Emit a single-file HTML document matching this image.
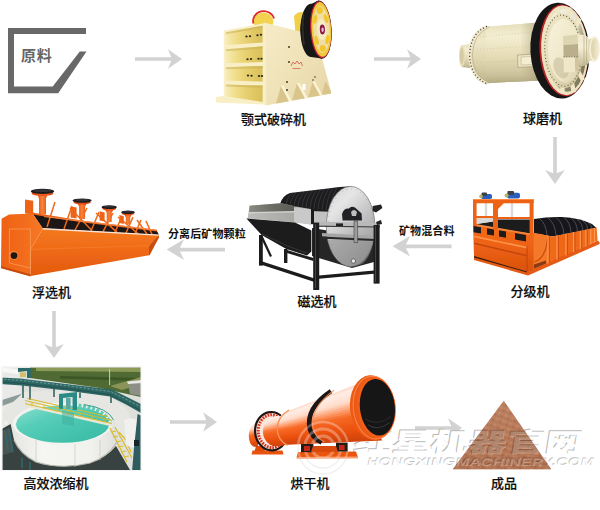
<!DOCTYPE html>
<html lang="zh-CN">
<head>
<meta charset="utf-8">
<title>选矿工艺流程</title>
<style>
html,body{margin:0;padding:0;background:#fff;}
body{width:600px;height:510px;overflow:hidden;position:relative;font-family:"Liberation Sans","Noto Sans CJK SC",sans-serif;}
#art{position:absolute;left:0;top:0;width:600px;height:510px;display:block;}
.lb{position:absolute;white-space:nowrap;color:#0c0c0c;font-size:13px;line-height:14px;font-weight:500;letter-spacing:0;-webkit-text-stroke:0.18px #0c0c0c;}
.sm{position:absolute;white-space:nowrap;color:#111;font-size:11px;line-height:12px;font-weight:700;letter-spacing:0.12px;}
.raw{position:absolute;left:21px;top:47px;letter-spacing:0.8px;color:#666;font-size:15px;line-height:17px;font-weight:700;white-space:nowrap;}
</style>
</head>
<body>
<svg id="art" width="600" height="510" viewBox="0 0 600 510">
<defs>
  <path id="arw" d="M0,-1.8 H36.3 L33,-9.8 L47,0 L33,9.8 L36.3,1.8 H0 Z"/>
  <filter id="soft" x="-5%" y="-5%" width="110%" height="110%"><feGaussianBlur stdDeviation="0.45"/></filter>
  <linearGradient id="jawSide" x1="0" y1="0" x2="1" y2="1">
    <stop offset="0" stop-color="#f6ecc8"/><stop offset=".5" stop-color="#efe2b8"/><stop offset="1" stop-color="#e6d6a6"/>
  </linearGradient>
  <linearGradient id="jawIn" x1="0" y1="0" x2="1" y2="0">
    <stop offset="0" stop-color="#f7ecb6"/><stop offset=".3" stop-color="#efdc86"/><stop offset=".6" stop-color="#e6ce6c"/><stop offset="1" stop-color="#d8bf5a"/>
  </linearGradient>
  <linearGradient id="bmBody" x1="0" y1="0" x2="0" y2="1">
    <stop offset="0" stop-color="#e6deba"/><stop offset=".22" stop-color="#f4eed2"/><stop offset=".55" stop-color="#e6dcb6"/><stop offset=".85" stop-color="#cdc39c"/><stop offset="1" stop-color="#b4aa82"/>
  </linearGradient>
  <linearGradient id="bmShade" x1="0" y1="0" x2="1" y2="0">
    <stop offset="0" stop-color="#b5ab84" stop-opacity="0"/><stop offset="1" stop-color="#a79d78" stop-opacity=".75"/>
  </linearGradient>
  <linearGradient id="bmCap" x1="0" y1="0" x2="1" y2="1">
    <stop offset="0" stop-color="#efe8ca"/><stop offset=".5" stop-color="#e3dab6"/><stop offset="1" stop-color="#c9bf98"/>
  </linearGradient>
  <linearGradient id="bmCap2" x1="0" y1="0" x2="1" y2="1">
    <stop offset="0" stop-color="#f8f3de"/><stop offset=".6" stop-color="#eee6c6"/><stop offset="1" stop-color="#d6cca6"/>
  </linearGradient>
  <linearGradient id="bmTr" x1="0" y1="0" x2="0" y2="1">
    <stop offset="0" stop-color="#efe8ca"/><stop offset=".4" stop-color="#f6f0d8"/><stop offset="1" stop-color="#c4ba92"/>
  </linearGradient>
  <linearGradient id="bmFun" x1="0" y1="0" x2="1" y2="0">
    <stop offset="0" stop-color="#d9d0aa"/><stop offset="1" stop-color="#f3ecd0"/>
  </linearGradient>
  <linearGradient id="clSide" x1="0" y1="0" x2="1" y2="0">
    <stop offset="0" stop-color="#f4731f"/><stop offset=".5" stop-color="#ee6516"/><stop offset="1" stop-color="#f07020"/>
  </linearGradient>
  <linearGradient id="clFront" x1="0" y1="0" x2="0" y2="1">
    <stop offset="0" stop-color="#f06a1c"/><stop offset=".45" stop-color="#ee6214"/><stop offset="1" stop-color="#d9520e"/>
  </linearGradient>
  <linearGradient id="msDisc" x1="0" y1="0" x2=".6" y2="1">
    <stop offset="0" stop-color="#d2d2d2"/><stop offset=".3" stop-color="#e6e6e6"/><stop offset=".6" stop-color="#c4c4c4"/><stop offset="1" stop-color="#9a9a9a"/>
  </linearGradient>
  <linearGradient id="flFront" x1="0" y1="0" x2="0" y2="1">
    <stop offset="0" stop-color="#f4791f"/><stop offset=".4" stop-color="#f06c18"/><stop offset="1" stop-color="#e2590d"/>
  </linearGradient>
  <linearGradient id="flEnd" x1="0" y1="0" x2="1" y2="0">
    <stop offset="0" stop-color="#ee6114"/><stop offset=".6" stop-color="#f36d1c"/><stop offset="1" stop-color="#f57a28"/>
  </linearGradient>
  <linearGradient id="flPed" x1="0" y1="0" x2="1" y2="0">
    <stop offset="0" stop-color="#e85510"/><stop offset=".5" stop-color="#f9823a"/><stop offset="1" stop-color="#e2500c"/>
  </linearGradient>
  <clipPath id="thClip"><rect x="2.2" y="367.2" width="138.8" height="103.2"/></clipPath>
  <filter id="soft2" x="-5%" y="-5%" width="110%" height="110%"><feGaussianBlur stdDeviation="0.55"/></filter>
  <linearGradient id="thWall" x1="0" y1="0" x2="1" y2="0">
    <stop offset="0" stop-color="#e3e3df"/><stop offset=".3" stop-color="#f6f6f2"/><stop offset=".75" stop-color="#f1f1ed"/><stop offset="1" stop-color="#dededa"/>
  </linearGradient>
  <linearGradient id="thWater" x1="0" y1="0" x2="1" y2="1">
    <stop offset="0" stop-color="#8fe0d0"/><stop offset=".35" stop-color="#55cdb8"/><stop offset="1" stop-color="#35b9a2"/>
  </linearGradient>
  <linearGradient id="dryBody" gradientUnits="userSpaceOnUse" x1="306" y1="398" x2="318" y2="446">
    <stop offset="0" stop-color="#f47a48"/><stop offset=".1" stop-color="#ffb08c"/><stop offset=".24" stop-color="#ffa278"/><stop offset=".42" stop-color="#f76a28"/><stop offset=".7" stop-color="#ef5612"/><stop offset="1" stop-color="#d8460a"/>
  </linearGradient>
  <linearGradient id="pile" x1="0" y1="0" x2="0" y2="1">
    <stop offset="0" stop-color="#c08666"/><stop offset=".5" stop-color="#b67859"/><stop offset="1" stop-color="#a86a4b"/>
  </linearGradient>
  <pattern id="pileTex" width="7" height="6" patternUnits="userSpaceOnUse" patternTransform="rotate(20)">
    <rect width="7" height="6" fill="#b97c5c"/>
    <circle cx="1.5" cy="1.5" r="1.2" fill="#d09a7a"/><circle cx="5" cy="4" r="1.3" fill="#9c6242"/><circle cx="4.6" cy="1" r=".8" fill="#c89070"/><circle cx="1.4" cy="4.6" r=".9" fill="#a86a4a"/>
  </pattern>
  <clipPath id="wmClip">
    <path d="M503.8,400.8 L551.2,469.2 L452.8,469.2 Z"/>
    <path d="M278,415 L356,384 L380,440.6 L281.6,445 Z"/>
    <ellipse cx="373" cy="407.6" rx="22.6" ry="32.6" transform="rotate(-6 374 407.5)"/>
    <path d="M298,452 L356,451.6 L358,457.4 L296.6,457.8 Z"/>
  </clipPath>
  <linearGradient id="bmEnd" x1="0" y1="0" x2="0" y2="1">
    <stop offset="0" stop-color="#e6deba"/><stop offset=".25" stop-color="#efe8ca"/><stop offset=".6" stop-color="#dfd5ae"/><stop offset="1" stop-color="#bdb38c"/>
  </linearGradient>
  <linearGradient id="msTank" x1="0" y1="0" x2="1" y2="0">
    <stop offset="0" stop-color="#bcbcb8"/><stop offset=".5" stop-color="#aeaeaa"/><stop offset="1" stop-color="#a2a29d"/>
  </linearGradient>
  <clipPath id="dryRearClip"><path d="M263,410 L284,410 L284,448 L266,448 Z"/></clipPath>
  <clipPath id="dryMainClip"><path d="M289,409 C272.6,418 272.6,438 287.6,446.4 L386,443 L362,380 Z"/></clipPath>
  <linearGradient id="bmGap" x1="0" y1="0" x2="1" y2="1">
    <stop offset="0" stop-color="#fbfaf4"/><stop offset=".45" stop-color="#e8e4d2"/><stop offset=".7" stop-color="#8f896c"/><stop offset="1" stop-color="#6e684e"/>
  </linearGradient>
  <clipPath id="wmClipP"><path d="M503.8,400.8 L551.2,469.2 L452.8,469.2 Z"/></clipPath>
  <clipPath id="dryCapClip"><path d="M258,422 L258,447.4 L254,447 Q248.6,444 248.8,435 Q249,426 255,423.4 Z"/></clipPath>
  <clipPath id="dryInClip"><ellipse cx="277.6" cy="431.4" rx="14.6" ry="15.4" transform="rotate(-4 277.6 431.4)"/></clipPath>
  <linearGradient id="msTop" x1="0" y1="0" x2="1" y2="0">
    <stop offset="0" stop-color="#8a8a84"/><stop offset=".5" stop-color="#6c6c64"/><stop offset="1" stop-color="#5c5c56"/>
  </linearGradient>
</defs>
<!-- raw material hopper -->
<g id="hopper" fill="#686868">
  <path d="M8,28 H86 V34 H14 V86.5 H52.7 L79.8,51.4 H86.5 L58.2,93.3 H8 Z"/>
</g>
<!-- arrows -->
<g id="arrows" fill="#d2d2d2">
  <use href="#arw" transform="translate(135,59)"/>
  <use href="#arw" transform="translate(374,59)"/>
  <use href="#arw" transform="translate(555,137) rotate(90)"/>
  <use href="#arw" transform="translate(451.5,246.3) scale(-1.255,1.04)"/>
  <use href="#arw" transform="translate(225,249.6) scale(-1.24,1.05)"/>
  <use href="#arw" transform="translate(54,311) rotate(90)"/>
  <use href="#arw" transform="translate(170,422)"/>
  <use href="#arw" transform="translate(415,428)"/>
</g>
<!-- jaw crusher -->
<g id="jaw" filter="url(#soft)">
  <!-- rear flywheel (red arc + yellow) -->
  <ellipse cx="263.5" cy="21.6" rx="10" ry="9" fill="#f3d34e"/>
  <path d="M253.4,23.4 A10.4,9.6 0 0 1 274,18.6" fill="none" stroke="#e02a2a" stroke-width="1.8"/>
  <!-- bearing housing yellow -->
  <path d="M294,16 Q299,10 304,13 L306,48 L297,52 Z" fill="#f0cf4a"/>
  <!-- side face -->
  <path d="M264,22.6 L302,32 L322.5,60 L331,91.6 L331,93.4 L266,105.6 L264,104 Z" fill="url(#jawSide)"/>
  <!-- ribs on side -->
  <g fill="#d9c48c">
    <path d="M276,103.6 L281,86 L289,101.2 Z"/>
    <path d="M292,100.6 L297,83.6 L305,98.2 Z"/>
    <path d="M308,97.6 L312.6,82 L320,95.4 Z"/>
    <path d="M321.6,95 L325.6,81 L331,91.6 L331,93.4 Z"/>
  </g>
  <g fill="#fbf4d6">
    <path d="M281,86 L289,101.2 L291.6,100.8 L283.2,85 Z"/>
    <path d="M297,83.6 L305,98.2 L307.6,97.8 L299.2,82.6 Z"/>
    <path d="M312.6,82 L320,95.4 L322.4,95 L314.6,81 Z"/>
  </g>
  <rect x="302.5" y="84" width="3" height="6" fill="#fff"/>
  <!-- bolts on side -->
  <g fill="#4a3a22">
    <circle cx="289" cy="47" r="1"/><circle cx="289" cy="62" r="1"/><circle cx="287" cy="82" r="1"/><circle cx="287" cy="90" r="1"/>
    <circle cx="313" cy="80" r="0.8"/><circle cx="315" cy="77" r="0.8"/>
  </g>
  <!-- logo red -->
  <path d="M291,66 l2,-4 l2,2 l2,-3 l2,3 l2,-2 l1.5,4" fill="none" stroke="#d4554a" stroke-width="0.8"/>
  <rect x="292.5" y="68" width="8" height="1" fill="#d4554a" opacity=".7"/>
  <!-- front frame -->
  <path d="M223.8,30.6 L264,23.2 L266,24 L266,105 L264,104.5 L227,103 L216,102.5 L216,97 L223.8,96 Z" fill="#f8efc6"/>
  <!-- recesses -->
  <g>
    <path d="M225.8,32.3 L262.6,25.7 L262.6,42.4 L225.8,45.3 Z" fill="url(#jawIn)"/>
    <path d="M225.8,49.2 L262.6,46.3 L262.6,62 L225.8,63.3 Z" fill="url(#jawIn)"/>
    <path d="M225.8,67.3 L262.6,65.9 L262.6,81.6 L225.8,80.6 Z" fill="url(#jawIn)"/>
    <path d="M225.8,84.5 L262.6,85.5 L262.6,102 L225.8,96.3 Z" fill="url(#jawIn)"/>
  </g>
  <!-- shelf shadows (top inside of each recess) -->
  <g fill="#c9b25a" opacity=".55">
    <path d="M225.8,32.3 L262.6,25.7 L262.6,28 L225.8,34.3 Z"/>
    <path d="M225.8,49.2 L262.6,46.3 L262.6,48.6 L225.8,51.2 Z"/>
    <path d="M225.8,67.3 L262.6,65.9 L262.6,68.2 L225.8,69.3 Z"/>
    <path d="M225.8,84.5 L262.6,85.5 L262.6,87.8 L225.8,86.5 Z"/>
  </g>
  <!-- bolts in recesses -->
  <g fill="#2e2a1c">
    <ellipse cx="246.5" cy="36.6" rx="1.2" ry="1"/><ellipse cx="250" cy="36.2" rx="1.2" ry="1"/><ellipse cx="257.5" cy="35.2" rx="1.2" ry="1"/><ellipse cx="261" cy="34.8" rx="1.2" ry="1"/>
    <ellipse cx="247.5" cy="59.2" rx="1.2" ry="1"/><ellipse cx="251" cy="59" rx="1.2" ry="1"/><ellipse cx="258.5" cy="58.8" rx="1.2" ry="1"/><ellipse cx="261.5" cy="58.7" rx="1.2" ry="1"/>
    <ellipse cx="248" cy="75.6" rx="1.2" ry="1"/><ellipse cx="251.5" cy="75.7" rx="1.2" ry="1"/><ellipse cx="259" cy="76" rx="1.2" ry="1"/><ellipse cx="262" cy="76" rx="1.2" ry="1"/>
  </g>
  <!-- flywheel -->
  <g>
    <path d="M311,4 L319,0.6 L331,28 L322,58.6 L311,57 Q300.4,45 300.4,29 Q300.6,12 311,4 Z" fill="#161616"/>
    <ellipse cx="311" cy="30.3" rx="10.6" ry="26.6" fill="#161616"/>
    <path d="M303.5,14 Q301.8,28 304,45" fill="none" stroke="#3a3a3a" stroke-width="1.6" opacity=".7"/>
    <g transform="rotate(-3.5 320.6 29.6)">
      <ellipse cx="320.4" cy="29.6" rx="11.2" ry="29.2" fill="#161616"/>
      <ellipse cx="320.8" cy="29.6" rx="10.6" ry="28.6" fill="#c21f3a"/>
      <ellipse cx="321.3" cy="29.5" rx="9.8" ry="27.4" fill="#f0c93c"/>
      <ellipse cx="321.5" cy="29.5" rx="8.2" ry="23.4" fill="#efdfa6"/>
      <g fill="#f2c62e">
        <ellipse cx="321" cy="10.5" rx="3" ry="3.4"/>
        <ellipse cx="326.6" cy="19" rx="1.8" ry="4.6" transform="rotate(-14 326.6 19)"/>
        <ellipse cx="326.8" cy="40" rx="1.8" ry="4.6" transform="rotate(14 326.8 40)"/>
        <ellipse cx="321.6" cy="48.5" rx="3" ry="3.4"/>
        <ellipse cx="316" cy="40" rx="1.7" ry="4.6" transform="rotate(-14 316 40)"/>
        <ellipse cx="316" cy="19" rx="1.7" ry="4.6" transform="rotate(14 316 19)"/>
      </g>
      <ellipse cx="321.8" cy="29.6" rx="4.6" ry="10.5" fill="#f6ecc4"/>
      <ellipse cx="322.4" cy="29.6" rx="2.6" ry="5" fill="#8a1c44"/>
      <ellipse cx="322.6" cy="29.8" rx="1.2" ry="2.3" fill="#f0c0d0"/>
    </g>
  </g>
</g>
<!-- ball mill -->
<g id="ballmill" filter="url(#soft)">
  <!-- left trunnion -->
  <path d="M462,45.2 L474,43.6 L474,68.4 L462,67 Z" fill="url(#bmBody)"/>
  <ellipse cx="462" cy="56.1" rx="3" ry="10.9" fill="#e6ddb8"/>
  <ellipse cx="461.8" cy="56.1" rx="1.8" ry="8" fill="#d3c9a2"/>
  <!-- dished end cap -->
  <ellipse cx="486" cy="55" rx="17" ry="28.2" fill="url(#bmEnd)"/>
  
  <!-- body -->
  <path d="M486,26.8 L536,22.8 L540,80.4 L486,83.2 Q500,55 486,26.8 Z" fill="url(#bmBody)"/>
  <path d="M486,26.8 L540,22.6 L540,80.4 L486,83.2 Z" fill="url(#bmBody)"/>
  <ellipse cx="486" cy="55" rx="14.4" ry="26" fill="url(#bmBody)" opacity="0"/>
  <!-- seam where cap meets body -->
  <path d="M487,26.4 Q470.4,33 469.6,55 Q470.4,77 487,83.6" fill="none" stroke="#f1ead0" stroke-width="3"/>
  <path d="M487,26.4 Q470.4,33 469.6,55 Q470.4,77 487,83.6" fill="none" stroke="#3f3a28" stroke-width="1.3" stroke-dasharray="1 2.3"/>
  <path d="M489.4,27 Q473,34 472.4,55 Q473,76 489.4,83.2" fill="none" stroke="#bfb58e" stroke-width=".8"/>
  <!-- shadow near ring -->
  <path d="M520,24 L536,22.5 L540,80.5 L522,81.5 Z" fill="url(#bmShade)"/>
  <!-- bolt rows -->
  <g stroke="#bdb38c" stroke-width=".7" stroke-dasharray=".8 2.4" fill="none" opacity=".8">
    <path d="M480,37 L534,32"/><path d="M477,49.5 L534,46"/><path d="M477,62.5 L534,60.6"/><path d="M480,74 L534,72"/>
  </g>
  <!-- manhole box -->
  <path d="M517.5,55 L532.5,54.2 L532.8,66.6 L518,67.4 Z" fill="#ece3c2" stroke="#a89e7a" stroke-width=".7"/>
  <path d="M521,57 L532.5,56.4 L532.7,64.4 L521.3,65 Z" fill="#f4edd2" stroke="#b5ab86" stroke-width=".5"/>
  <!-- gear ring -->
  <g transform="rotate(-3.2 560 50.5)">
    <ellipse cx="560" cy="50.6" rx="29.6" ry="48" fill="#151515"/>
    <ellipse cx="563.8" cy="50.6" rx="24.4" ry="46" fill="#b52228"/>
    <ellipse cx="564.6" cy="50.6" rx="23.4" ry="45" fill="#ebe3c0"/>
    <ellipse cx="565.6" cy="50.6" rx="20.4" ry="41.4" fill="url(#bmGap)"/>
    <g stroke="#efe7c6" stroke-width="4.4" stroke-linecap="butt">
      <path d="M565.6,50.6 L571.4,8.1"/>
      <path d="M565.6,50.6 L581.5,19.5"/>
      <path d="M565.6,50.6 L587.3,39.2"/>
      <path d="M565.6,50.6 L587.3,62.0"/>
      <path d="M565.6,50.6 L581.5,81.7"/>
      <path d="M565.6,50.6 L571.4,93.1"/>
      <path d="M565.6,50.6 L559.8,93.1"/>
      <path d="M565.6,50.6 L549.7,81.7"/>
      <path d="M565.6,50.6 L543.9,62.0"/>
      <path d="M565.6,50.6 L543.9,39.2"/>
      <path d="M565.6,50.6 L549.7,19.5"/>
      <path d="M565.6,50.6 L559.8,8.1"/>
    </g>
    <!-- end cap flange -->
    <ellipse cx="563" cy="50.8" rx="19.6" ry="37.6" fill="url(#bmCap)"/>
    <ellipse cx="563" cy="50.8" rx="18.2" ry="35.6" fill="none" stroke="#4e472e" stroke-width="1" stroke-dasharray=".9 2.4"/>
    <ellipse cx="564.4" cy="51.2" rx="16.4" ry="32" fill="url(#bmCap2)"/>
    <!-- cast shadow under bearing box -->
    <ellipse cx="560" cy="68" rx="7" ry="11" fill="#b5ab86" opacity=".4" transform="rotate(-20 560 68)"/>
    
  </g>
  <!-- trunnion -->
  <path d="M570,34.5 Q585,33 589,38 L589,63 Q584,68 570,66 Z" fill="url(#bmTr)"/>
  <path d="M584,36 L584,66 M586.6,37 L586.6,65" stroke="#b3a986" stroke-width=".7" fill="none"/>
  <!-- bearing box -->
  <path d="M563,36 L577.5,34.5 L578,44 L563.4,45 Z" fill="#ddd4b0"/>
  <path d="M563.4,45 L578,44 L578.4,57 L563.6,57 Z" fill="#b9af8c"/>
  <path d="M563.6,57 L575,56.6 L575.4,72 L563.8,72.4 Z" fill="#efe7c8"/>
  <path d="M575,56.6 L578.4,56.8 L578.4,70.5 L575.4,72 Z" fill="#cfc5a0"/>
  <path d="M563.6,57 L578.4,56.8" stroke="#3d3a2c" stroke-width=".8" stroke-dasharray="1 1.6"/>
  <!-- funnel -->
  <path d="M588,40 L594.5,36.5 L594.5,61.5 L588,60 Z" fill="#e2d9b6"/>
  <ellipse cx="594.6" cy="49" rx="5.3" ry="12.8" fill="#f6efd6"/>
  <ellipse cx="594.9" cy="49" rx="3.9" ry="10.8" fill="url(#bmFun)"/>
</g>
<!-- spiral classifier -->
<g id="classifier" filter="url(#soft)">
  <!-- motors -->
  <g>
    <rect x="481" y="194" width="11" height="5" rx="1.8" fill="#2b5fc2"/>
    <rect x="481.6" y="192.6" width="5.4" height="3.4" rx="1" fill="#3a4048"/>
    <circle cx="481" cy="196.4" r="1.8" fill="#b9b070"/>
    <rect x="507" y="192.8" width="13" height="5.6" rx="2" fill="#2b5fc2"/>
    <rect x="507.4" y="191" width="6.6" height="4" rx="1" fill="#3a4048"/>
    <circle cx="506.6" cy="195.6" r="2" fill="#b9b070"/>
    <path d="M486,203 V224 M512,203 V226" stroke="#d9d9d9" stroke-width="2.4"/>
  </g>
  <!-- black spirals behind gantry -->
  <path d="M476,224 L493,221.4 L498,219.4 L531,219.6 L533,234 L476,228 Z" fill="#1d1d1f"/>
  <path d="M476.6,218 L493,218 L493,221.6 L476.6,224 Z" fill="#d8d8d6"/>
  <!-- spirals -->
  <path d="M534,219 Q548,216.5 562,217 Q580,218 592,224 L596.5,228 L553,236.4 L534,233.4 Z" fill="#18181a"/>
  <g fill="none" stroke="#55585e" stroke-width=".9" opacity=".9">
    <path d="M540,219 Q546,224 547,235"/><path d="M548,218 Q555,223 556,235.6"/><path d="M556,217.6 Q563,222 564,234.6"/>
    <path d="M564,217.6 Q570.5,222 571,233"/><path d="M571,218.2 Q577,222 577.5,232"/><path d="M577,219.4 Q582.5,223 583,231"/>
    <path d="M583,221 Q587.5,224 588,230"/><path d="M588,222.6 Q592,225 592.4,229.2"/>
  </g>
  <!-- base beam -->
  <path d="M474,255 L527,270 L598,240.6 L599.6,242.6 L599.6,244 L528,275.4 L474,260 Z" fill="#e55a12"/>
  <path d="M474,253 L527,267.6 L527,272.4 L474,257.6 Z" fill="#3a1d10"/>
  <!-- side wall -->
  <path d="M533,233 L553,236.4 L596.6,227.6 L597.6,240.6 L533,269.6 Z" fill="url(#clSide)"/>
  <!-- round end -->
  <path d="M533,233 Q541,233.5 548,236 L548,262.8 L533,269.6 Z" fill="#f47a2a"/>
  <path d="M534.4,262 Q546,258 547.6,238" fill="none" stroke="#c94a0c" stroke-width="1.2"/>
  <!-- ribs -->
  <g stroke="#ff9a50" stroke-width="1.3" opacity=".95">
    <path d="M548,236.4 V263.6"/><path d="M557,235.4 V259.6"/><path d="M566,233.6 V255.4"/><path d="M573.6,232 V252"/><path d="M580.4,230.8 V249"/><path d="M586,229.6 V246.4"/><path d="M590.8,228.6 V244.2"/><path d="M594.4,228 V242.4"/>
  </g>
  <g stroke="#c9480a" stroke-width="1" opacity=".8">
    <path d="M549.4,236.4 V263"/><path d="M558.4,235.4 V259"/><path d="M567.4,233.6 V254.8"/><path d="M575,232 V251.4"/><path d="M581.6,230.8 V248.4"/><path d="M587.2,229.6 V245.8"/>
  </g>
  <!-- dark inside at bottom of round end -->
  <path d="M534,264.6 L546,260.6 L546,263.4 L534,268.8 Z" fill="#6b2c0c" opacity=".8"/>
  <!-- front face -->
  <path d="M473,224 L529,233.6 L533.6,233 L533.6,269.6 L527,271.6 L474,256 Z" fill="url(#clFront)"/>
  <!-- front windows -->
  <g fill="#1b1b1d">
    <path d="M473.6,226 L481,227.2 L481,233.4 L473.6,232.2 Z"/>
    <path d="M487,228.2 L494,229.4 L494,235.6 L487,234.4 Z"/>
    <path d="M499,230.2 L506,231.4 L506,237.8 L499,236.6 Z"/>
    <path d="M515,233 L526,235 L526,241.4 L515,239.4 Z"/>
  </g>
  <path d="M473,223.6 L529.6,233.2 L529.6,235 L473,225.4 Z" fill="#f6853c"/>
  <!-- ledges -->
  <path d="M474,235.6 L527,246.8 L527,248.6 L474,237.2 Z" fill="#ff9448"/>
  <path d="M474,242.6 L527,255 L527,256.4 L474,244 Z" fill="#c4450a"/>
  <path d="M527,246 L527,271.6" stroke="#c4450a" stroke-width="1"/>
  <!-- gantry -->
  <g fill="#ee6214">
    <path d="M473,199 H533.6 V203.2 H473 Z"/>
    <path d="M473,199 H476.6 V226 H473 Z"/>
    <path d="M493,199 H498 V229.5 H493 Z"/>
    <path d="M529.6,199 H533.6 V234 H529.6 Z"/>
    <path d="M476,216 H493.4 V218 H476 Z"/>
    <path d="M498,217 H530 V219 H498 Z"/>
    <path d="M498,203 L504,203 L498,209 Z"/>
  </g>
  <path d="M473,199 H533.6 V200 H473 Z" fill="#ff8c42"/>
</g>
<!-- magnetic separator -->
<g id="magsep" filter="url(#soft)">
  <!-- rear frame / dark trough behind -->
  <path d="M312,228 L374,238 L374,262 L352,268 L312,256 Z" fill="#262626"/>
  <path d="M309,208.6 L336,211.6 L330,226 L309,224.4 Z" fill="#c2c2c0"/>
  <!-- drum black ribbed surface -->
  <path d="M280,204 Q282,196 290,193 L330,188.2 Q343,186 351,186.5 L336,212 L311,211 Z" fill="#1c1c1e"/>
  <g stroke="#4a4c52" stroke-width=".6" opacity=".9" fill="none">
    <path d="M293,192.8 Q287,197 286,204.6"/><path d="M297,192.2 Q291,197 290,205.2"/><path d="M301,191.6 Q295,197 294,205.8"/><path d="M305,191.2 Q299,197 298,206.4"/><path d="M309,190.6 Q303,197 302,207"/><path d="M313,190.2 Q307,197 306,207.6"/><path d="M317,189.6 Q311,197 310,208.2"/><path d="M321,189.2 Q315,197 314,208.8"/><path d="M325,188.8 Q319,197 318,209.4"/><path d="M329,188.4 Q323,197 322,210"/><path d="M333,188 Q327,197 326,210.6"/><path d="M337,187.4 Q331,197 330,211"/>
  </g>
  <!-- disc -->
  <ellipse cx="350.6" cy="226.4" rx="24.3" ry="40" fill="url(#msDisc)"/>
  <ellipse cx="350.6" cy="226.4" rx="24.3" ry="40" fill="none" stroke="#7d7d7d" stroke-width=".8"/>
  <ellipse cx="350.9" cy="226.4" rx="22.6" ry="37.6" fill="none" stroke="#8a8a8a" stroke-width=".6" stroke-dasharray=".8 4"/>
  <!-- lower half darker -->
  <path d="M327.6,240 L373.6,240 Q371,257 362,264 Q352,268.6 342,263 Q331,254 327.6,240 Z" fill="#8e8e8e" opacity=".55"/>
  <circle cx="353.4" cy="261" r="2.2" fill="#e8e8e8" stroke="#444" stroke-width=".7"/>
  <!-- hub -->
  <path d="M342,214 Q344,208 349,208.6 Q351,205.6 355,207.6 L361.6,213.6 L362,220.6 L342.6,220.6 Z" fill="#232325"/>
  <path d="M351,212 Q354,208 357,212 L356,216 L352,216 Z" fill="#bdbdbd"/>
  <!-- cross beams -->
  <path d="M314,221.6 L380,223 L380,226.4 L314,225.4 Z" fill="#b9b9b9"/>
  <path d="M314,225.4 L380,226.4 L380,227.6 L314,226.8 Z" fill="#3a3a3a"/>
  <path d="M336,223.4 h7 v2.6 h-7 Z" fill="#222"/>
  <path d="M322,233 L375,236 L375,239 L322,236.6 Z" fill="#a6a6a6"/>
  <path d="M322,236.6 L375,239 L375,241 L322,238.8 Z" fill="#2c2c2c"/>
  <path d="M354,221 h3.6 v21.6 h-3.6 Z" fill="#9c9c9c" stroke="#333" stroke-width=".5"/>
  <!-- handle right -->
  <path d="M372.6,206 L381,204.6 L382.4,208 L376,212.6 L372.6,211 Z" fill="#222"/>
  <path d="M376,222 l5,-2 l1,4 l-5,1 Z" fill="#222"/>
  <!-- tank -->
  <path d="M249.6,205.8 L281,203.2 L296,206.4 L311,209 L311,224 L294,222.2 L247.6,218.4 Z" fill="url(#msTank)"/>
  <path d="M249.6,205.8 L281,203.2 L296,206.4 L295,211.4 L249,212.4 Z" fill="url(#msTop)"/>
  <path d="M294,207 L311,209.4 L311,224.4 L294,222.4 Z" fill="#c9c9c9"/>
  <path d="M249,212 L294.6,211 L294.6,212.4 L249,213.4 Z" fill="#d0d0cc"/>
  <!-- hopper black -->
  <path d="M246.4,218.4 L295,222.6 L311.4,230.6 L311.4,251.4 L307,255.6 L286.4,249 L261.6,235 Z" fill="#1b1b1c"/>
  <path d="M262,234 L290,247 L307,253" stroke="#3c3c3c" stroke-width=".8" fill="none"/>
  <!-- legs -->
  <g fill="#1a1a1b">
    <path d="M259,235 h3.8 v30.6 h-3.8 Z"/>
    <path d="M284,249 h3.4 v14 h-3.4 Z"/>
    <path d="M313.2,222.6 h6 v67.4 h-6 Z"/>
    <path d="M373.6,225 h6 v58.6 h-6 Z"/>
    <path d="M259.2,260.4 L314.6,278.4 L314.6,282 L259.2,264 Z"/>
    <path d="M319,275.4 L374,270.4 L374,273.8 L319,278.8 Z"/>
    <path d="M262.6,236 L272,256 L270,257 L261,238 Z"/>
    <path d="M287,250 L313.4,258 L313.4,261 L287,253 Z"/>
    <path d="M311,210 h3 v14 h-3 Z"/>
  </g>
  <path d="M315.4,224 v64" stroke="#4a4a4a" stroke-width="1"/>
  <path d="M375.6,226 v56" stroke="#4a4a4a" stroke-width="1"/>
</g>
<!-- flotation machine -->
<g id="flotation" filter="url(#soft)">
  <!-- back rail + black froth band -->
  <path d="M32.6,213.6 L85,222 L156.7,230.6 L159,235 L42.8,228.4 Z" fill="#1b1514"/>
  <path d="M32,212.6 L85,221 L157,229.8 L157,231.4 L85,222.8 L32,214.6 Z" fill="#ec5f14"/>
  <!-- struts -->
  <g stroke="#ef6a1c" stroke-width="1.5" fill="none">
    <path d="M55,202 L47,227"/><path d="M72,206 L64,229"/><path d="M87,208 L75,230"/><path d="M70,208 L92,230.6"/>
    <path d="M99,212 L91,231"/><path d="M113,213 L103,231.6"/><path d="M96,213 L117,232.4"/>
    <path d="M122,216 L115,232.4"/><path d="M133,217 L126,233"/><path d="M118,217 L138,233.6"/>
    <path d="M141,220 L135,233.6"/><path d="M146,221 L152,234.4"/><path d="M137,220 L147,234"/>
  </g>
  <path d="M44,216.6 L155,230" stroke="#f08a4a" stroke-width="1" fill="none"/>
  <!-- motors -->
  <g>
    <path d="M25.0,199.6 L33.2,200.8 L33.2,214.6 L25.0,213.6 Z" fill="#ee6418"/>
    <path d="M37.6,195.6 L47.4,195.6 L46.0,198.2 L46.0,214.6 L39.0,214.6 L39.0,198.2 Z" fill="url(#flPed)"/>
    <ellipse cx="42.5" cy="193.4" rx="10.8" ry="2.7" fill="#e4480e"/>
    <ellipse cx="42.5" cy="192.9" rx="8.2" ry="1.9" fill="#f4692a"/>
    <ellipse cx="42.5" cy="191.4" rx="11.7" ry="2.7" fill="#1c1a1c"/>
    <ellipse cx="42.5" cy="190.7" rx="9.4" ry="1.4" fill="#34323a"/>
    <path d="M70.6,206.4 L76.6,207.6 L76.6,218.6 L70.6,217.6 Z" fill="#ee6418"/>
    <path d="M77.7,204.0 L86.5,204.0 L85.1,206.6 L85.1,219.0 L79.1,219.0 L79.1,206.6 Z" fill="url(#flPed)"/>
    <ellipse cx="82.1" cy="202.2" rx="8.8" ry="2.2" fill="#e4480e"/>
    <ellipse cx="82.1" cy="201.8" rx="6.7" ry="1.5" fill="#f4692a"/>
    <ellipse cx="82.1" cy="200.6" rx="9.6" ry="2.2" fill="#1c1a1c"/>
    <ellipse cx="82.1" cy="200.0" rx="7.7" ry="1.1" fill="#34323a"/>
    <path d="M99.6,211.2 L104.6,212.4 L104.6,221.6 L99.6,220.6 Z" fill="#ee6418"/>
    <path d="M105.3,210.1 L113.1,210.1 L111.7,212.7 L111.7,222.0 L106.7,222.0 L106.7,212.7 Z" fill="url(#flPed)"/>
    <ellipse cx="109.2" cy="208.6" rx="7.0" ry="1.9" fill="#e4480e"/>
    <ellipse cx="109.2" cy="208.2" rx="5.3" ry="1.3" fill="#f4692a"/>
    <ellipse cx="109.2" cy="207.2" rx="7.6" ry="1.9" fill="#1c1a1c"/>
    <ellipse cx="109.2" cy="206.7" rx="6.1" ry="0.9" fill="#34323a"/>
    <path d="M119.4,215.0 L123.8,216.2 L123.8,224.0 L119.4,223.0 Z" fill="#ee6418"/>
    <path d="M124.4,214.8 L131.6,214.8 L130.2,217.4 L130.2,224.4 L125.8,224.4 L125.8,217.4 Z" fill="url(#flPed)"/>
    <ellipse cx="128.0" cy="213.5" rx="6.3" ry="1.7" fill="#e4480e"/>
    <ellipse cx="128.0" cy="213.1" rx="4.8" ry="1.2" fill="#f4692a"/>
    <ellipse cx="128.0" cy="212.2" rx="6.8" ry="1.7" fill="#1c1a1c"/>
    <ellipse cx="128.0" cy="211.8" rx="5.4" ry="0.8" fill="#34323a"/>
  </g>
  <!-- front face -->
  <path d="M42.8,228.4 L159,235 L159,236.4 L149,245.6 L149,255.2 L30.6,276 L30.6,249.4 Z" fill="url(#flFront)"/>
  <path d="M149,245.4 L159,235.6 L159,237.6 L149.6,255.2 L149,255.2 Z" fill="#c94c0a"/>
  <!-- fold highlight -->
  <path d="M30.6,249.4 L149,245.6" stroke="#f88a3c" stroke-width=".8" opacity=".6" fill="none"/>
  <!-- lip -->
  <path d="M42.6,228 L159,234.6 L159,235.8 L42.6,229.4 Z" fill="#fbe4d4"/>
  <!-- end face -->
  <path d="M1.6,218.8 L9,214.6 L32.6,213.4 L42.8,228.4 L30.6,249.4 L30.6,276 L1,267.8 Z" fill="url(#flEnd)"/>
  <path d="M9.4,229 L30.4,229 L30.4,268 L9.4,263 Z" fill="none" stroke="#f99a56" stroke-width=".8"/>
  <circle cx="13.8" cy="255.4" r="4.4" fill="#f58a44"/>
  <circle cx="14" cy="255.6" r="3.4" fill="#1a1211"/>
  <path d="M1,266 L30.6,274.2 L30.6,276.4 L1,268.2 Z" fill="#c74c0c"/>
</g>
<!-- thickener photo -->
<g id="thickener">
  <rect x="1.5" y="366.5" width="140" height="104.5" fill="#f1f1ef"/>
  <g clip-path="url(#thClip)">
   <g filter="url(#soft2)">
    <rect x="0" y="364" width="145" height="110" fill="#dfe0dc"/>
    <!-- fields -->
    <path d="M30,364 H145 V398 L100,388 L30,378 Z" fill="#4f6a30"/>
    <path d="M36,368 H141 V372 L36,371 Z" fill="#8b9a56"/>
    <path d="M60,376 L141,378 L141,381 L60,378.6 Z" fill="#3c5626"/>
    <path d="M110,386 L141,377 L141,384 L122,390 Z" fill="#8a9458"/>
    <!-- building right -->
    <path d="M128,382 L142,381 L142,396 L130,394 Z" fill="#8e9088"/>
    <path d="M127,381.4 L142,380 L142,383 L128,384 Z" fill="#e8e8e4"/>
    <!-- pole -->
    <path d="M109.6,369 v16" stroke="#c8ccc4" stroke-width="1"/>
    <!-- left building -->
    <path d="M0,364 H19 L21,394 L24,404 L0,414 Z" fill="#e9e9e7"/>
    <path d="M2,367 L18,370 L18,374 L2,372 Z" fill="#f8f8f6"/>
    <path d="M2,400 L21,394 L21,399 L2,406 Z" fill="#8c9a98"/>
    <!-- ground around tank -->
    <path d="M24,392 L100,388 L128,410 L136,436 L0,436 L0,414 Z" fill="#e6e6e2"/>
    <!-- truss walkway -->
    <path d="M0,377.6 L20,378.4 L70,384.4 L112,389.6 L141,404 L141,413 L126,404.6 L110,396.4 L68,390.8 L22,385.4 L0,384 Z" fill="#2f6664"/>
    <path d="M0,379 L22,380.4 L70,386 L111,391.6 L141,407" stroke="#7fb4ae" stroke-width=".9" fill="none" opacity=".75" stroke-dasharray="2.4 1.6"/>
    <path d="M0,382 L22,383.4 L70,389 L110,394.6 L141,410.6" stroke="#1c4a4a" stroke-width=".9" fill="none" opacity=".8"/>
    <path d="M18,368 L31,368 L31,378 L27,378 L27,371 L18,372 Z" fill="#2d6a68"/>
    <path d="M20,372.4 L26,372.4 L26,377 L20,377 Z" fill="#c9b03c" opacity=".7"/>
    <g stroke="#2a5a5a" stroke-width="1.5">
      <path d="M23,385 V398"/><path d="M30,386 V400"/><path d="M54,389 V397"/><path d="M80,392.6 V398"/><path d="M111,396 V403"/>
    </g>
    <!-- tank wall -->
    <path d="M10.6,424 A52,21.4 0 0 1 114.6,424 L118,438 Q112,456 90,463 Q62,470 36,462 Q20,454 14,440 Z" fill="url(#thWall)"/>
    <!-- inner launder ring right -->
    <ellipse cx="62.5" cy="423.8" rx="50" ry="20.4" fill="#f2f2ee"/>
    <path d="M72,406 Q100,406 110,423" fill="none" stroke="#63c9b4" stroke-width="5"/>
    <path d="M72,406 Q100,406 110,423" fill="none" stroke="#e9f3ee" stroke-width="5" stroke-dasharray="1.6 3"/>
    <path d="M84,404.6 Q108,408 113.6,420" fill="none" stroke="#3e9e90" stroke-width="1"/>
    <!-- water -->
    <ellipse cx="62.5" cy="424.2" rx="46.6" ry="18.6" fill="url(#thWater)"/>
    <!-- water cut by bridge: top part beyond bridge becomes launder -->
    <!-- bridge deck -->
    <path d="M25,403.4 L112,423.2 L112,426.4 L25,406.4 Z" fill="#e9e7d6"/>
    <g stroke="#d8bb2c" stroke-width="1" fill="none" transform="translate(0,2)">
      <path d="M25,398.6 L112,418.4"/><path d="M25,401.6 L112,421.6"/><path d="M27,396.4 L108,414.6"/>
      <path d="M32,400 v4 M44,402.8 v4 M56,405.6 v4 M68,408.2 v4 M80,411 v4 M92,413.8 v4 M104,416.4 v4"/>
    </g>
    <!-- central mechanism -->
    <path d="M59,394 L77,392 L77,410 L72.6,410 L72.6,397 L63,398 L63,409 L59,408.6 Z" fill="#2c8a86"/>
    <path d="M66,398 h4.6 v11 h-4.6 Z" fill="#5aa8a4"/>
    <path d="M62,411 L74,413 L74,426 L62,424 Z" fill="#3fae9c" opacity=".55"/>
    <!-- stairs right -->
    <g stroke="#d9bd2e" stroke-width="1.2" fill="none">
      <path d="M110,428 L127,462"/><path d="M115,427 L132,458"/><path d="M119,432 L126,440 L131,452"/>
      <path d="M111,432 l5,-1 M113,437 l5,-1 M116,442 l5,-1 M118,447 l5,-1 M121,452 l5,-1 M124,457 l5,-1"/>
    </g>
    <!-- small white tank right -->
    <path d="M124,420 Q131,417 138.6,420 L138.6,446 Q131,450 126,444 Z" fill="#f0f0ec"/>
    <!-- right dark structure -->
    <path d="M134,448 L137.6,414 L142,416 L142,472 L132,472 Z" fill="#2f5c5e"/>
    <path d="M134,440 L139,440 L139,446 L134,446 Z" fill="#18282a"/>
    <!-- dark bottom-left -->
    <path d="M0,430 L10.6,424 L14,440 Q20,454 36,462 Q62,470 90,463 Q106,458 116,446 L130,470 L130,474 L0,474 Z" fill="#37423f"/>
    <path d="M0,432 L9,428 L13,452 L0,456 Z" fill="#4a5552"/>
    <g stroke="#2c6c74" stroke-width="1.4"><path d="M5,430 L8,450"/><path d="M9,428 L13,452"/><path d="M22,458 v10"/><path d="M30,462 v8"/></g>
    <circle cx="6" cy="423" r="2" fill="#f0f0ee"/>
    <!-- wall seams -->
    <g stroke="#c9c9c4" stroke-width=".7" fill="none"><path d="M36,440 V462"/><path d="M75,444 V467"/><path d="M100,440 V460"/></g>
    <path d="M14,440 Q20,454 36,462 Q62,470 90,463 Q108,457 117,442" stroke="#b9b9b2" stroke-width="1.2" fill="none"/>
   </g>
  </g>
  <rect x="2" y="367" width="139" height="103.5" fill="none" stroke="#f4f4f2" stroke-width="1"/>
</g>
<!-- watermark (under dryer and pile) -->
<g id="watermark" font-family="'Liberation Sans','Noto Sans CJK SC',sans-serif" font-weight="900">
  <g opacity=".5" fill="none" stroke="#e2e2e2" stroke-width="1.4">
    <circle cx="323" cy="449" r="25"/>
    <circle cx="323" cy="449" r="19"/>
  </g>
  <g transform="translate(353,452) skewX(-9) scale(1.47,1)">
    <text x="-.8" y="-1.1" font-size="26" fill="#b8b8b8">红星机器官网</text>
    <text x="0" y="0" font-size="26" fill="#ffffff">红星机器官网</text>
  </g>
  <g transform="translate(367,465.8) skewX(-12) scale(1.44,1)">
    <text x="-.5" y="-.6" font-size="11" fill="#bdbdbd" letter-spacing=".2">HONGXINGMACHINERY.COM</text>
    <text x="0" y="0" font-size="11" fill="#ffffff" letter-spacing=".2">HONGXINGMACHINERY.COM</text>
  </g>
</g>
<!-- rotary dryer -->
<g id="dryer" filter="url(#soft)">
  <!-- supports -->
  <path d="M252.5,450.4 L282.5,450.4 L283.5,454.4 L251.5,454.4 Z" fill="#e8530f"/>
  <path d="M256,446 L263.6,446 L265,451 L254.6,451 Z" fill="#e04c0c"/>
  <path d="M298,452 L356,451.6 L358,457.4 L296.6,457.8 Z" fill="#ea5510"/>
  <path d="M296.6,457 L358,456.6 L358,458.4 L296.6,458.8 Z" fill="#f7a070"/>
  <path d="M301,443.6 h12.4 v8.6 h-12.4 Z" fill="#241a18"/>
  <path d="M304,446 h6 v5 h-6 Z" fill="#c5281c"/>
  <path d="M336,442.6 h11.6 v9 h-11.6 Z" fill="#241a18"/>
  <path d="M339,445 h5.6 v5 h-5.6 Z" fill="#c5281c"/>
  <path d="M313,446 L336,446 L338,452 L311,452 Z" fill="#d8480c"/>
  <!-- section 1 (rear small) -->
  <g clip-path="url(#dryCapClip)">
    <path d="M247.0,426.0 L292.0,410.0 L292.0,413.6 L247.0,428.1 Z" fill="#ffece2"/>
    <path d="M247.0,427.5 L292.0,412.5 L292.0,416.2 L247.0,429.6 Z" fill="#ffe5d9"/>
    <path d="M247.0,429.0 L292.0,415.1 L292.0,418.7 L247.0,431.1 Z" fill="#ffdecf"/>
    <path d="M247.0,430.5 L292.0,417.6 L292.0,421.2 L247.0,432.6 Z" fill="#fec8ae"/>
    <path d="M247.0,432.0 L292.0,420.2 L292.0,423.8 L247.0,434.1 Z" fill="#fda87e"/>
    <path d="M247.0,433.5 L292.0,422.7 L292.0,426.3 L247.0,435.6 Z" fill="#fb8c55"/>
    <path d="M247.0,435.0 L292.0,425.3 L292.0,428.9 L247.0,437.1 Z" fill="#f87231"/>
    <path d="M247.0,436.5 L292.0,427.8 L292.0,431.4 L247.0,438.6 Z" fill="#f56622"/>
    <path d="M247.0,438.0 L292.0,430.3 L292.0,434.0 L247.0,440.1 Z" fill="#f25f1c"/>
    <path d="M247.0,439.5 L292.0,432.9 L292.0,436.5 L247.0,441.6 Z" fill="#ef5917"/>
    <path d="M247.0,441.0 L292.0,435.4 L292.0,439.0 L247.0,443.1 Z" fill="#ec5311"/>
    <path d="M247.0,442.5 L292.0,438.0 L292.0,441.6 L247.0,444.6 Z" fill="#e54d0d"/>
    <path d="M247.0,444.0 L292.0,440.5 L292.0,444.1 L247.0,446.1 Z" fill="#db480b"/>
    <path d="M247.0,445.5 L292.0,443.1 L292.0,445.6 L247.0,447.0 Z" fill="#d44409"/>
  </g>
  <!-- girth gear -->
  <g transform="rotate(-4 271.5 431.2)">
    <ellipse cx="271.5" cy="431.2" rx="16.4" ry="19.2" fill="#fbe6dc" stroke="#1d1718" stroke-width="2.2"/>
    <ellipse cx="271.8" cy="431.2" rx="13.6" ry="16.4" fill="none" stroke="#d3301c" stroke-width="3" stroke-dasharray="1.7 1.1"/>
  </g>
  <g clip-path="url(#dryInClip)">
    <path d="M247.0,426.0 L292.0,410.0 L292.0,413.6 L247.0,428.1 Z" fill="#ffece2"/>
    <path d="M247.0,427.5 L292.0,412.5 L292.0,416.2 L247.0,429.6 Z" fill="#ffe5d9"/>
    <path d="M247.0,429.0 L292.0,415.1 L292.0,418.7 L247.0,431.1 Z" fill="#ffdecf"/>
    <path d="M247.0,430.5 L292.0,417.6 L292.0,421.2 L247.0,432.6 Z" fill="#fec8ae"/>
    <path d="M247.0,432.0 L292.0,420.2 L292.0,423.8 L247.0,434.1 Z" fill="#fda87e"/>
    <path d="M247.0,433.5 L292.0,422.7 L292.0,426.3 L247.0,435.6 Z" fill="#fb8c55"/>
    <path d="M247.0,435.0 L292.0,425.3 L292.0,428.9 L247.0,437.1 Z" fill="#f87231"/>
    <path d="M247.0,436.5 L292.0,427.8 L292.0,431.4 L247.0,438.6 Z" fill="#f56622"/>
    <path d="M247.0,438.0 L292.0,430.3 L292.0,434.0 L247.0,440.1 Z" fill="#f25f1c"/>
    <path d="M247.0,439.5 L292.0,432.9 L292.0,436.5 L247.0,441.6 Z" fill="#ef5917"/>
    <path d="M247.0,441.0 L292.0,435.4 L292.0,439.0 L247.0,443.1 Z" fill="#ec5311"/>
    <path d="M247.0,442.5 L292.0,438.0 L292.0,441.6 L247.0,444.6 Z" fill="#e54d0d"/>
    <path d="M247.0,444.0 L292.0,440.5 L292.0,444.1 L247.0,446.1 Z" fill="#db480b"/>
    <path d="M247.0,445.5 L292.0,443.1 L292.0,445.6 L247.0,447.0 Z" fill="#d44409"/>
  </g>
  <!-- section 2 main body -->
  <g clip-path="url(#dryMainClip)">
    <path d="M278.0,415.0 L358.0,383.4 L359.8,387.7 L278.3,417.3 Z" fill="#fee0d2"/>
    <path d="M278.2,416.4 L359.1,386.0 L360.9,390.3 L278.4,418.6 Z" fill="#ffede4"/>
    <path d="M278.3,417.7 L360.2,388.6 L362.0,392.9 L278.6,420.0 Z" fill="#ffe9de"/>
    <path d="M278.5,419.1 L361.3,391.2 L363.1,395.5 L278.8,421.4 Z" fill="#ffe5d8"/>
    <path d="M278.7,420.5 L362.4,393.8 L364.2,398.1 L278.9,422.7 Z" fill="#ffe1d2"/>
    <path d="M278.8,421.8 L363.5,396.4 L365.3,400.7 L279.1,424.1 Z" fill="#ffd8c4"/>
    <path d="M279.0,423.2 L364.5,399.0 L366.4,403.3 L279.3,425.4 Z" fill="#fec4a7"/>
    <path d="M279.1,424.5 L365.6,401.6 L367.4,405.9 L279.4,426.8 Z" fill="#feb18a"/>
    <path d="M279.3,425.9 L366.7,404.2 L368.5,408.5 L279.6,428.2 Z" fill="#fd9d6d"/>
    <path d="M279.5,427.3 L367.8,406.8 L369.6,411.1 L279.7,429.5 Z" fill="#fb8a52"/>
    <path d="M279.6,428.6 L368.9,409.4 L370.7,413.7 L279.9,430.9 Z" fill="#f87637"/>
    <path d="M279.8,430.0 L370.0,412.0 L371.8,416.3 L280.1,432.3 Z" fill="#f66824"/>
    <path d="M280.0,431.4 L371.1,414.6 L372.9,418.9 L280.2,433.6 Z" fill="#f46421"/>
    <path d="M280.1,432.7 L372.2,417.2 L374.0,421.5 L280.4,435.0 Z" fill="#f2601d"/>
    <path d="M280.3,434.1 L373.3,419.8 L375.1,424.1 L280.6,436.4 Z" fill="#f05c19"/>
    <path d="M280.5,435.5 L374.4,422.4 L376.2,426.7 L280.7,437.7 Z" fill="#ee5715"/>
    <path d="M280.6,436.8 L375.5,425.0 L377.3,429.3 L280.9,439.1 Z" fill="#ec5311"/>
    <path d="M280.8,438.2 L376.5,427.6 L378.4,431.9 L281.1,440.4 Z" fill="#e94f0e"/>
    <path d="M280.9,439.5 L377.6,430.2 L379.4,434.5 L281.2,441.8 Z" fill="#e24c0c"/>
    <path d="M281.1,440.9 L378.7,432.8 L380.5,437.1 L281.4,443.2 Z" fill="#dc490b"/>
    <path d="M281.3,442.3 L379.8,435.4 L381.6,439.7 L281.5,444.5 Z" fill="#d6460a"/>
    <path d="M281.4,443.6 L380.9,438.0 L382.0,440.6 L281.6,445.0 Z" fill="#d24409"/>
  </g>
  <!-- flange at start of section 2 -->
  <path d="M289,410 C273.6,419 273.6,438 287.6,445.4" fill="none" stroke="#f9905a" stroke-width="1.4"/>
  <!-- riding ring -->
  <path d="M331,391.2 Q306,408 309.6,428 Q312,438 321.6,442.4" fill="none" stroke="#1b1516" stroke-width="4.6"/>
  <path d="M334,390.2 Q309.6,408 313,428 Q315.4,437.6 324.6,442" fill="none" stroke="#f9915a" stroke-width="1.2" opacity=".8"/>
  <!-- front rim -->
  <g transform="rotate(-6 374 407.5)">
    <ellipse cx="372.6" cy="407.6" rx="22.6" ry="32.6" fill="#ee5a14"/>
    <ellipse cx="374.2" cy="407.6" rx="21" ry="31.4" fill="none" stroke="#f98a50" stroke-width="1"/>
    <ellipse cx="376.4" cy="407.6" rx="19" ry="30.2" fill="#f0601a"/>
    <ellipse cx="377.4" cy="407.6" rx="17.5" ry="28.4" fill="#141416"/>
    <path d="M366,424 Q376,432 388,424" stroke="#34363a" stroke-width="1" fill="none"/>
    <path d="M364,418 Q376,427 390,418" stroke="#2c2e32" stroke-width="1" fill="none"/>
  </g>
</g>
<!-- product pile -->
<g id="product" filter="url(#soft)">
  <path d="M503.8,400.8 L551.2,469.2 L452.8,469.2 Z" fill="url(#pile)"/>
  <path d="M503.8,400.8 L551.2,469.2 L452.8,469.2 Z" fill="url(#pileTex)" opacity=".5"/>
</g>
<!-- watermark faint overlay (over dryer and pile) -->
<g id="watermark2" font-family="'Liberation Sans','Noto Sans CJK SC',sans-serif" font-weight="900">
  <g opacity=".3" fill="none" stroke="#ffffff" clip-path="url(#wmClip)">
    <circle cx="323" cy="447" r="25" stroke-width="2.4"/>
    <circle cx="323" cy="447" r="18" stroke-width="3"/>
    <circle cx="323" cy="447" r="11" stroke-width="3"/>
  </g>
  <g clip-path="url(#wmClipP)"><g transform="translate(353,452) skewX(-9) scale(1.47,1)">
    <text x="-.7" y="-.9" font-size="26" fill="#5a3220" opacity=".42">红星机器官网</text>
    <text x="0" y="0" font-size="26" fill="#ffe8d8" opacity=".3">红星机器官网</text>
  </g></g>
  <g clip-path="url(#wmClipP)"><g transform="translate(367,465.8) skewX(-12) scale(1.44,1)">
    <text x="-.5" y="-.6" font-size="11" fill="#5a3220" opacity=".42" letter-spacing=".2">HONGXINGMACHINERY.COM</text>
    <text x="0" y="0" font-size="11" fill="#ffe8d8" opacity=".32" letter-spacing=".2">HONGXINGMACHINERY.COM</text>
  </g></g>
</g>
</svg>
<div class="raw">原料</div>
<div class="lb" style="left:241px;top:113px;">颚式破碎机</div>
<div class="lb" style="left:523px;top:111.5px;">球磨机</div>
<div class="lb" style="left:510.5px;top:285px;">分级机</div>
<div class="lb" style="left:297.5px;top:294.5px;">磁选机</div>
<div class="lb" style="left:32px;top:286px;">浮选机</div>
<div class="lb" style="left:23.5px;top:477px;">高效浓缩机</div>
<div class="lb" style="left:290.5px;top:477px;">烘干机</div>
<div class="lb" style="left:491px;top:477px;">成品</div>
<div class="sm" style="left:399px;top:225px;">矿物混合料</div>
<div class="sm" style="left:168px;top:228px;">分离后矿物颗粒</div>
</body>
</html>
